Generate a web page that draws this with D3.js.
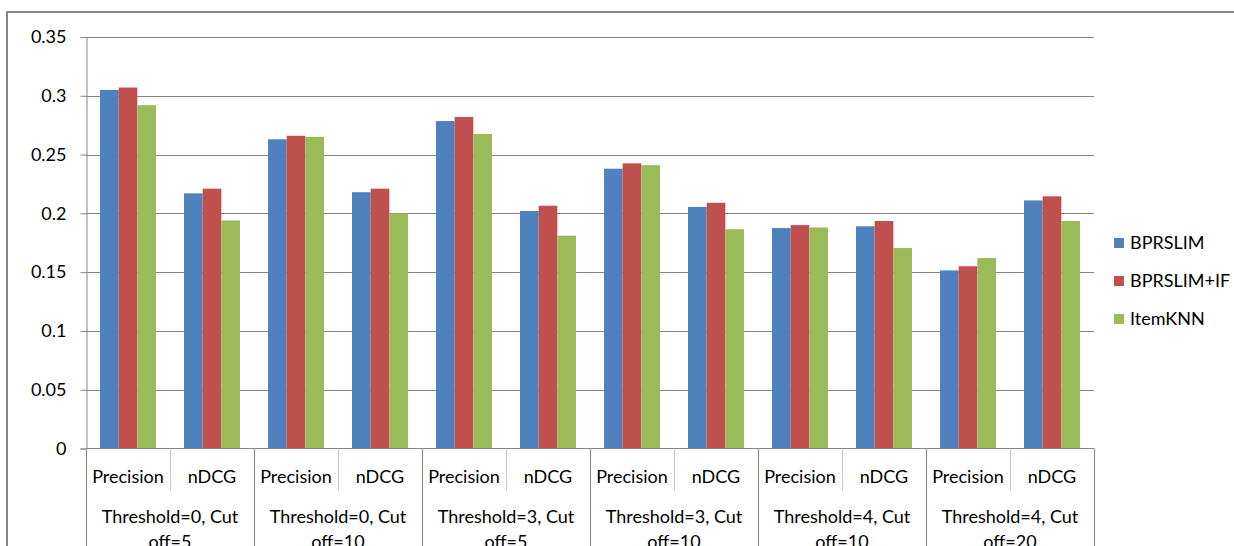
<!DOCTYPE html>
<html><head><meta charset="utf-8">
<script src="https://cdn.jsdelivr.net/npm/d3@7/dist/d3.min.js"></script>
<style>html,body{margin:0;padding:0;background:#fff;}svg{display:block;font-family:Lato, "Open Sans", sans-serif;}</style>
</head><body>
<svg id="chart" width="1234" height="546"></svg>
<script>
const groups = ["Threshold=0, Cut off=5","Threshold=0, Cut off=10","Threshold=3, Cut off=5","Threshold=3, Cut off=10","Threshold=4, Cut off=10","Threshold=4, Cut off=20"];
const metrics = ["Precision","nDCG"];
const seriesNames = ["BPRSLIM","BPRSLIM+IF","ItemKNN"];
const colors = ["#4F81BD","#C0504D","#9BBB59"];
const bprslim   = [0.305,0.217, 0.263,0.218, 0.2785,0.202, 0.238,0.2055, 0.1875,0.189, 0.1515,0.211];
const bprslimIF = [0.307,0.221, 0.266,0.221, 0.282,0.2065, 0.2425,0.209, 0.190,0.1935, 0.155,0.2145];
const itemknn   = [0.292,0.194, 0.265,0.200, 0.2675,0.181, 0.241,0.1865, 0.188,0.1705, 0.162,0.1935];
const yTicks = [0,0.05,0.1,0.15,0.2,0.25,0.3,0.35];
const yTickLabels = ["0","0.05","0.1","0.15","0.2","0.25","0.3","0.35"];

const svg = d3.select("#chart");
const L = 86, R = 1094, T = 37, B = 448.5;
const grid = "#868686";

// outer frame
svg.append("path").attr("d", `M7,560 V12 H1240`).attr("fill","none").attr("stroke",grid).attr("stroke-width",2);

const cats = [];
groups.forEach((g,gi)=>metrics.forEach((m,mi)=>cats.push({key:gi+"_"+mi, g:gi, m, idx:cats.length})));
const seriesVals = [bprslim, bprslimIF, itemknn];

const x0 = d3.scaleBand().domain(cats.map(c=>c.key)).range([L,R]).padding(0);
const x1 = d3.scaleBand().domain(seriesNames).range([0,x0.bandwidth()]).paddingInner(0).paddingOuter(0.75);
const y = d3.scaleLinear().domain([0,0.35]).range([B,T]);

// gridlines
svg.append("g").selectAll("line").data(yTicks.slice(1)).join("line")
  .attr("x1",L).attr("x2",R).attr("y1",d=>Math.round(y(d))+0.5).attr("y2",d=>Math.round(y(d))+0.5)
  .attr("stroke",grid).attr("stroke-width",1);

// bars
cats.forEach(c=>{
  seriesNames.forEach((s,si)=>{
    const v = seriesVals[si][c.idx];
    svg.append("rect").attr("x",x0(c.key)+x1(s)).attr("width",x1.bandwidth())
      .attr("y",y(v)).attr("height",y(0)-y(v)).attr("fill",colors[si]);
  });
});

// y axis
const yAxis = d3.axisLeft(y).tickValues(yTicks).tickFormat((d,i)=>yTickLabels[i]).tickSize(6).tickPadding(14);
const ya = svg.append("g").attr("transform",`translate(${L+0.5},0)`).call(yAxis);
ya.select(".domain").attr("stroke",grid);
ya.selectAll(".tick line").attr("stroke",grid);
ya.selectAll("text").attr("font-size",18).attr("fill","#000").attr("font-family","Lato, 'Open Sans', sans-serif");

// x axis line
svg.append("line").attr("x1",L).attr("x2",R).attr("y1",B).attr("y2",B).attr("stroke",grid);
// dividers
cats.forEach((c,i)=>{
  const xl = Math.round(x0(c.key))+0.5;
  const isGroupStart = c.m === metrics[0];
  svg.append("line").attr("x1",xl).attr("x2",xl).attr("y1",B).attr("y2",isGroupStart?560:491)
    .attr("stroke", isGroupStart? grid : "#c8c8c8").attr("stroke-width",1);
});
svg.append("line").attr("x1",R+0.5).attr("x2",R+0.5).attr("y1",B).attr("y2",560).attr("stroke",grid);

// metric labels
svg.append("g").selectAll("text").data(cats).join("text")
  .attr("x",c=>x0(c.key)+x0.bandwidth()/2).attr("y",483)
  .attr("text-anchor","middle").attr("font-size",18).attr("fill","#000").text(c=>c.m);

// group labels (wrapped in two lines)
const gx = d3.scaleBand().domain(groups).range([L,R]);
groups.forEach(g=>{
  const parts = g.split(" Cut ");
  const t = svg.append("text").attr("x",gx(g)+gx.bandwidth()/2).attr("y",523)
    .attr("text-anchor","middle").attr("font-size",18).attr("fill","#000");
  t.append("tspan").attr("x",gx(g)+gx.bandwidth()/2).text(parts[0]+" Cut");
  t.append("tspan").attr("x",gx(g)+gx.bandwidth()/2).attr("dy",25).text(parts[1]);
});

// legend
const lg = svg.append("g");
seriesNames.forEach((s,i)=>{
  const cy = 243 + i*38;
  lg.append("rect").attr("x",1114).attr("y",cy-5).attr("width",10).attr("height",10).attr("fill",colors[i]);
  lg.append("text").attr("x",1130).attr("y",cy+6).attr("font-size",18).attr("fill","#000").text(s);
});
</script>
</body></html>
